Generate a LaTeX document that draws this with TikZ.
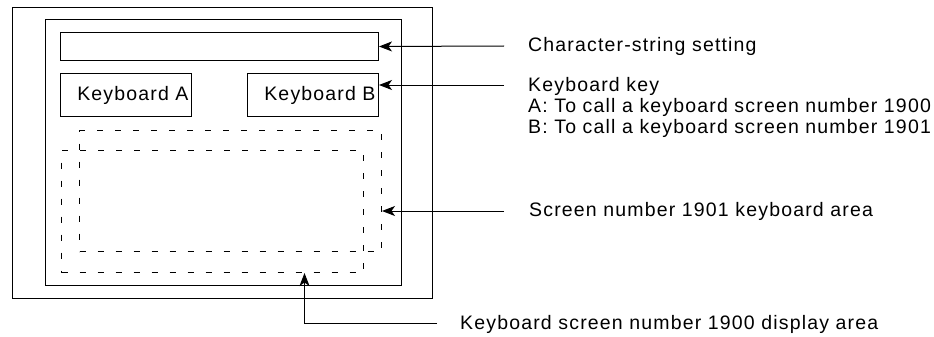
\documentclass[tikz,border=0pt]{standalone}
\usepackage{fontspec}
\setmainfont[LetterSpace=6]{Liberation Sans}
\usepackage{tikz}
\usetikzlibrary{positioning,arrows.meta}
\tikzset{
  callarrow/.style={-{Stealth[length=13pt, width=10pt, inset=3.5pt]}, line width=1pt},
  panelbox/.style={draw, line width=1pt, anchor=north west, inner sep=0pt},
  keybox/.style={draw, line width=1pt, anchor=north west, inner xsep=3pt, inner ysep=0pt, text width=125pt, align=right, minimum height=43pt},
  dasharea/.style={draw, line width=1pt, dash pattern=on 6pt off 12pt},
  notetext/.style={anchor=base west, inner sep=0pt, align=left}
}

\begin{document}
\begin{tikzpicture}[x=1pt, y=-1pt, every node/.style={font=\fontsize{19.5}{21}\selectfont}]
  \useasboundingbox (0,0) rectangle (934,337);
  % panel frame
  \node[panelbox, minimum width=420pt, minimum height=291pt] (outer) at (12,7) {};
  \node[panelbox, minimum width=356pt, minimum height=266pt] (inner) at (45,19) {};
  \node[panelbox, minimum width=318pt, minimum height=28pt] (strbox) at (60,32) {};
  \node[keybox] (keyA) at (60,73) {Keyboard A};
  \node[keybox] (keyB) at (247,73) {Keyboard B};
  % keyboard areas
  \node[dasharea, panelbox, minimum width=302pt, minimum height=121pt] (area1901) at (79,130) {};
  \node[dasharea, panelbox, minimum width=302pt, minimum height=122pt] (area1900) at (61,150) {};
  % notes
  \node[notetext] (nstr) at (528,51.5) {Character-string setting};
  \node[notetext] (nkey) at (528,133.5) {Keyboard key\\A: To call a keyboard screen number 1900\\B: To call a keyboard screen number 1901};
  \node[notetext] (n1901) at (529,216.5) {Screen number 1901 keyboard area};
  \node[notetext] (n1900) at (460,329.5) {Keyboard screen number 1900 display area};
  \coordinate (c1) at (504,46);
  \coordinate (c2) at (504,85);
  \coordinate (c3) at (504,211);
  \coordinate (c4) at (437,323);
  \draw[callarrow] (c1) -- (strbox.east);
  \draw[callarrow] (c2) -- (c2 -| keyB.east);
  \draw[callarrow] (c3) -- (c3 -| area1901.east);
  \draw[callarrow] (c4) -| ([xshift=92pt]area1900.south);
\end{tikzpicture}
\end{document}
